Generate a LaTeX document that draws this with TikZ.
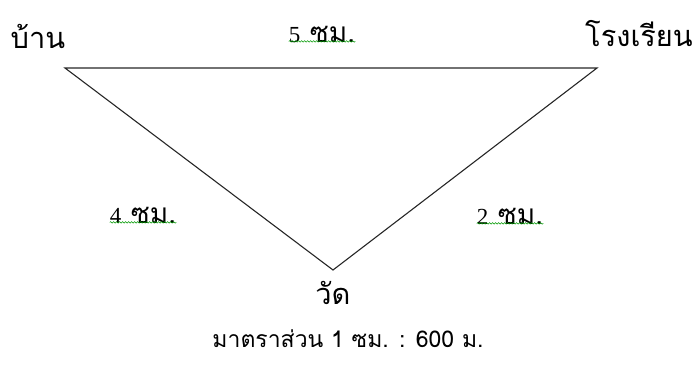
\documentclass[tikz,border=0pt]{standalone}
\usepackage{fontspec}
\newfontfamily\thaifont[Script=Thai]{Loma}
\newfontfamily\serifdig{Liberation Serif}
\usetikzlibrary{decorations.pathmorphing}
\begin{document}
\begin{tikzpicture}[x=1pt,y=-1pt,
  lbl/.style={font=\thaifont\fontsize{29}{32}\selectfont, inner sep=0pt},
  dist/.style={font=\thaifont\fontsize{28}{31}\selectfont, inner sep=0pt},
  edge/.style={line width=1.1pt, draw=black!85},
  squiggle/.style={draw=green!60!black, line width=0.5pt, decorate, decoration={snake, amplitude=0.8pt, segment length=3pt}}]
\useasboundingbox (0,0) rectangle (695,364);
\coordinate (h) at (65,68);
\coordinate (s) at (597,68);
\coordinate (t) at (333,270);
\draw[edge] (h) -- (s) -- (t) -- cycle;
\node[lbl] (home) at (38,36) {บ้าน};
\node[lbl] (school) at (639,34) {โรงเรียน};
\node[lbl] (temple) at (333,293) {วัด};
\node[dist] (d5) at (322,34) {{\serifdig\fontsize{23}{26}\selectfont 5} ซม.};
\node[dist] (d4) at (143,215) {{\serifdig\fontsize{23}{26}\selectfont 4} ซม.};
\node[dist] (d2) at (510,216) {{\serifdig\fontsize{23}{26}\selectfont 2} ซม.};
\draw[squiggle] ([yshift=1pt]d5.south west) -- ([yshift=1pt]d5.south east);
\draw[squiggle] ([yshift=1pt]d4.south west) -- ([yshift=1pt]d4.south east);
\draw[squiggle] ([yshift=1pt]d2.south west) -- ([yshift=1pt]d2.south east);
\node[lbl, font=\thaifont\fontsize{23}{26}\selectfont] (scale) at (348,339) {มาตราส่วน 1 ซม. : 600 ม.};
\end{tikzpicture}
\end{document}
